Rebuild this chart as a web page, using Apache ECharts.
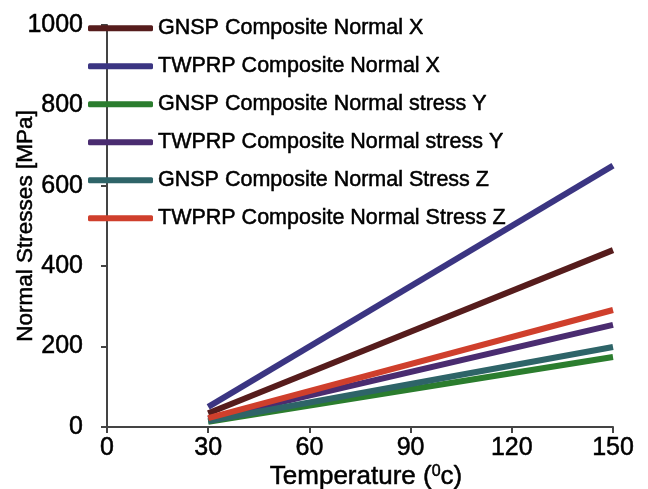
<!DOCTYPE html>
<html>
<head>
<meta charset="utf-8">
<script src="https://cdn.jsdelivr.net/npm/echarts@6/dist/echarts.min.js"></script>
<style>html,body{margin:0;padding:0;background:#fff;}#c{width:648px;height:489px;}</style>
</head>
<body>
<div id="c"></div>
<script>
const seriesNames = [
  'GNSP Composite Normal X',
  'TWPRP Composite Normal X',
  'GNSP Composite Normal stress Y',
  'TWPRP Composite Normal stress Y',
  'GNSP Composite Normal Stress Z',
  'TWPRP Composite Normal Stress Z'
];
const temperatures = [30, 150];
const gnspX = [34, 440];
const twprpX = [50, 650];
const gnspY = [13, 174];
const twprpY = [20, 254];
const gnspZ = [15, 199];
const twprpZ = [22, 291];
const xTicks = [0, 30, 60, 90, 120, 150];
const yTicks = [0, 200, 400, 600, 800, 1000];

const seriesValues = [gnspX, twprpX, gnspY, twprpY, gnspZ, twprpZ];
const colors = ['#561c1c', '#3b3582', '#2b7d2e', '#4a2c70', '#2e6468', '#cf3f2c'];

const font = 'Liberation Sans, Arial, sans-serif';
const heavy = { textBorderColor: '#000', textBorderWidth: 0.5 };
const chart = echarts.init(document.getElementById('c'));
chart.setOption({
  animation: false,
  backgroundColor: '#fff',
  grid: { left: 107, right: 35, top: 25, bottom: 62, containLabel: false, outerBoundsMode: 'none' },
  legend: {
    orient: 'vertical', left: 88, top: 17, padding: 0,
    icon: 'roundRect', itemWidth: 65, itemHeight: 6, itemGap: 15.5,
    data: seriesNames,
    textStyle: Object.assign({ fontFamily: font, fontSize: 21.5, lineHeight: 21, color: '#000', padding: [-2, 0, 0, 0] }, heavy)
  },
  xAxis: {
    type: 'value', min: xTicks[0], max: xTicks[xTicks.length - 1], interval: 30,
    splitLine: { show: false },
    axisLine: { lineStyle: { color: '#444', width: 2 } },
    axisTick: { show: true, length: 6, lineStyle: { color: '#444', width: 2 } },
    axisLabel: Object.assign({ fontFamily: font, fontSize: 25, color: '#000', margin: 9, formatter: v => String(v) }, heavy),
    name: 'Temperature ({s|0}c)', nameLocation: 'middle', nameGap: 37, nameMoveOverlap: false,
    nameTextStyle: Object.assign({ fontFamily: font, fontSize: 26, color: '#000', verticalAlign: 'top', padding: [0, 0, 0, 12],
      rich: { s: Object.assign({ fontFamily: font, fontSize: 16, color: '#000', verticalAlign: 'top', padding: [0,0,10,0] }, heavy) } }, heavy)
  },
  yAxis: {
    type: 'value', min: yTicks[0], max: yTicks[yTicks.length - 1], interval: 200,
    splitLine: { show: false },
    axisLine: { show: true, lineStyle: { color: '#444', width: 2 } },
    axisTick: { show: true, length: 6, lineStyle: { color: '#444', width: 2 } },
    axisLabel: Object.assign({ fontFamily: font, fontSize: 25, color: '#000', margin: 24, formatter: v => String(v) }, heavy),
    name: 'Normal Stresses [MPa]', nameLocation: 'middle', nameGap: 70, nameMoveOverlap: false,
    nameTextStyle: Object.assign({ fontFamily: font, fontSize: 22.5, color: '#000' }, heavy)
  },
  series: seriesNames.map((n, i) => ({
    name: n, type: 'line', showSymbol: false, symbol: 'none',
    data: temperatures.map((t, j) => [t, seriesValues[i][j]]),
    lineStyle: { width: 6, color: colors[i] },
    itemStyle: { color: colors[i] }
  }))
});
</script>
</body>
</html>
